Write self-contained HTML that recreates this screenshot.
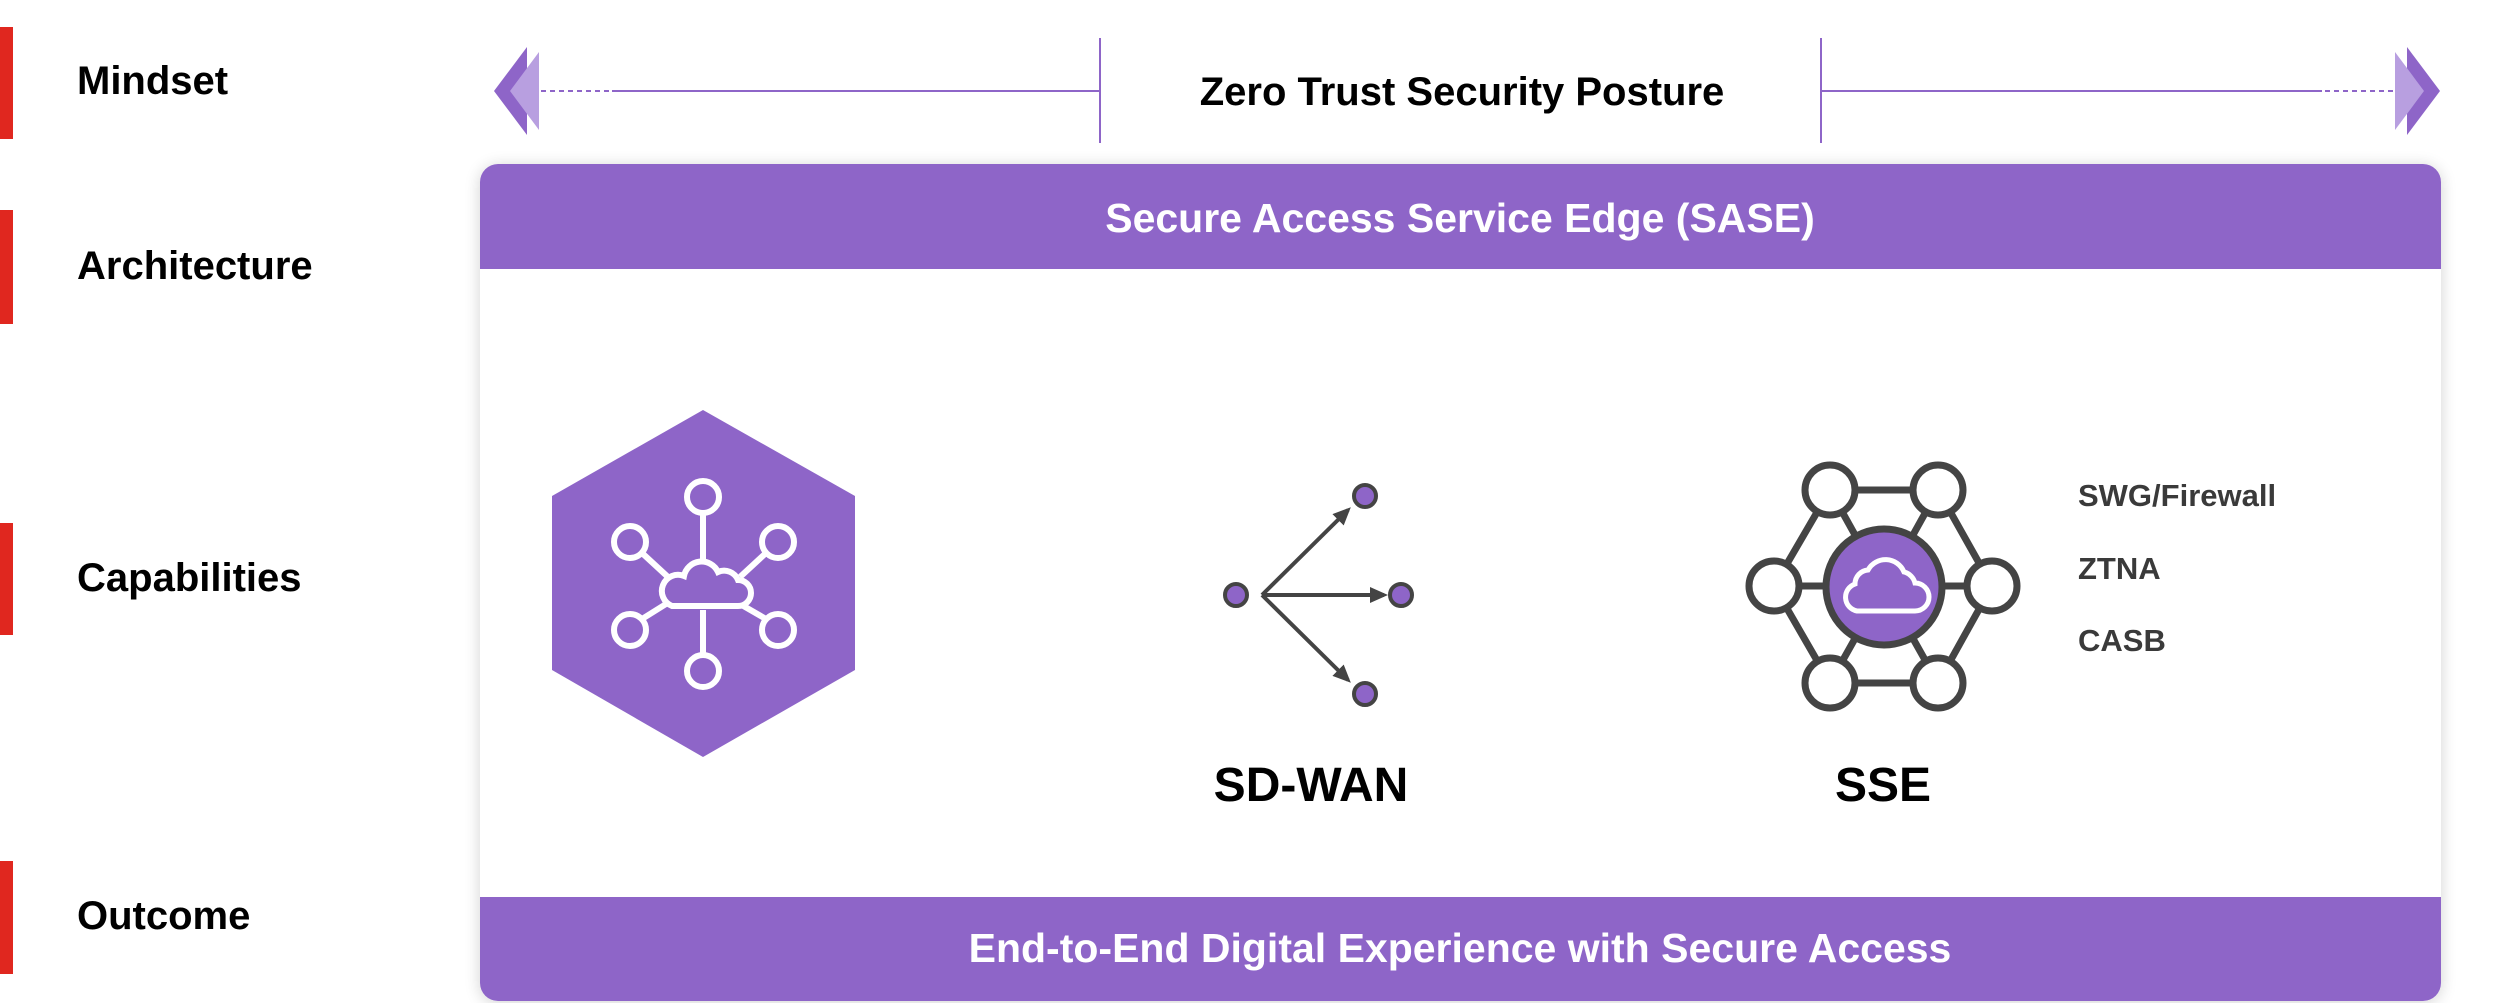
<!DOCTYPE html>
<html><head><meta charset="utf-8"><style>
html,body{margin:0;padding:0;background:#fff;}
body{width:2500px;height:1003px;overflow:hidden;position:relative;font-family:"Liberation Sans",Arial,sans-serif;}
</style></head><body>
<svg width="2500" height="1003" viewBox="0 0 2500 1003" xmlns="http://www.w3.org/2000/svg" style="position:absolute;left:0;top:0">
<defs>
<filter id="sh" x="-5%" y="-5%" width="110%" height="110%"><feGaussianBlur in="SourceAlpha" stdDeviation="8"/><feOffset dy="2"/><feComponentTransfer><feFuncA type="linear" slope="0.18"/></feComponentTransfer><feMerge><feMergeNode/><feMergeNode in="SourceGraphic"/></feMerge></filter>
<marker id="ah" markerWidth="18" markerHeight="18" refX="14" refY="9" orient="auto" markerUnits="userSpaceOnUse" viewBox="0 0 18 18"><path d="M0,1 L18,9 L0,17 z" fill="#444"/></marker>
</defs>
<g fill="#e0271f">
<rect x="0" y="27" width="13" height="112"/>
<rect x="0" y="210" width="13" height="114"/>
<rect x="0" y="523" width="13" height="112"/>
<rect x="0" y="861" width="13" height="113"/>
</g>
<g font-weight="bold" font-size="40" fill="#000">
<text x="77" y="94">Mindset</text>
<text x="77" y="279">Architecture</text>
<text x="77" y="591">Capabilities</text>
<text x="77" y="929">Outcome</text>
</g>
<g stroke="#8e65c8" stroke-width="2" fill="none">
<line x1="541" y1="91" x2="612" y2="91" stroke-dasharray="5,4"/>
<line x1="612" y1="91" x2="1100" y2="91"/>
<line x1="1100" y1="38" x2="1100" y2="143"/>
<line x1="2393" y1="91" x2="2322" y2="91" stroke-dasharray="5,4"/>
<line x1="2322" y1="91" x2="1821" y2="91"/>
<line x1="1821" y1="38" x2="1821" y2="143"/>
</g>
<polygon points="494,91 527,47 527,135" fill="#8e65c8"/>
<polygon points="510,91 539,52 539,130" fill="#b89fe0"/>
<polygon points="2440,91 2407,47 2407,135" fill="#8e65c8"/>
<polygon points="2424,91 2395,52 2395,130" fill="#b89fe0"/>
<text x="1462" y="105" text-anchor="middle" font-weight="bold" font-size="40" fill="#000">Zero Trust Security Posture</text>
<rect x="480" y="164" width="1961" height="837" rx="18" fill="#fff" filter="url(#sh)"/>
<path d="M498,164 H2423 A18,18 0 0 1 2441,182 V269 H480 V182 A18,18 0 0 1 498,164 Z" fill="#8e65c8"/>
<path d="M480,897 H2441 V983 A18,18 0 0 1 2423,1001 H498 A18,18 0 0 1 480,983 Z" fill="#8e65c8"/>
<text x="1460" y="232" text-anchor="middle" font-weight="bold" font-size="41" fill="#fff">Secure Access Service Edge (SASE)</text>
<text x="1460" y="962" text-anchor="middle" font-weight="bold" font-size="41" fill="#fff">End-to-End Digital Experience with Secure Access</text>
<polygon points="703,410 855,496 855,670 703,757 552,670 552,496" fill="#8e65c8"/>
<g stroke="#fff" stroke-width="6" fill="none">
<line x1="703" y1="513" x2="703" y2="562"/>
<line x1="703" y1="610" x2="703" y2="655"/>
<line x1="642" y1="553" x2="668" y2="577"/>
<line x1="766" y1="553" x2="740" y2="577"/>
<line x1="642" y1="619" x2="666" y2="604"/>
<line x1="766" y1="619" x2="740" y2="604"/>
<circle cx="703" cy="497" r="16"/><circle cx="703" cy="671" r="16"/>
<circle cx="630" cy="542" r="16"/><circle cx="778" cy="542" r="16"/>
<circle cx="630" cy="630" r="16"/><circle cx="778" cy="630" r="16"/>
<path d="M672,606 H738 A13,13 0 0 0 738,580 A15,15 0 0 0 718,572 A18,18 0 0 0 684,576 A15,15 0 0 0 672,606 Z" fill="#8e65c8"/>
</g>
<g stroke="#444" stroke-width="4" fill="none">
<line x1="1262" y1="595" x2="1348" y2="510" marker-end="url(#ah)"/>
<line x1="1262" y1="595" x2="1384" y2="595" marker-end="url(#ah)"/>
<line x1="1262" y1="595" x2="1348" y2="680" marker-end="url(#ah)"/>
</g>
<g fill="#8e65c8" stroke="#444" stroke-width="4">
<circle cx="1236" cy="595" r="11"/><circle cx="1365" cy="496" r="11"/>
<circle cx="1401" cy="595" r="11"/><circle cx="1365" cy="694" r="11"/>
</g>
<text x="1311" y="801" text-anchor="middle" font-weight="bold" font-size="48" fill="#000">SD-WAN</text>
<g stroke="#444" stroke-width="7" fill="none">
<line x1="1830" y1="490" x2="1938" y2="490"/><line x1="1830" y1="683" x2="1938" y2="683"/>
<line x1="1830" y1="490" x2="1774" y2="586"/><line x1="1938" y1="490" x2="1992" y2="586"/>
<line x1="1830" y1="683" x2="1774" y2="586"/><line x1="1938" y1="683" x2="1992" y2="586"/>
<line x1="1830" y1="490" x2="1884" y2="587"/><line x1="1938" y1="490" x2="1884" y2="587"/>
<line x1="1830" y1="683" x2="1884" y2="587"/><line x1="1938" y1="683" x2="1884" y2="587"/>
<line x1="1774" y1="586" x2="1992" y2="586"/>
<circle cx="1884" cy="587" r="58" fill="#8e65c8"/>
<g fill="#fff"><circle cx="1830" cy="490" r="25"/><circle cx="1938" cy="490" r="25"/>
<circle cx="1774" cy="586" r="25"/><circle cx="1992" cy="586" r="25"/>
<circle cx="1830" cy="683" r="25"/><circle cx="1938" cy="683" r="25"/></g>
</g>
<path d="M1857,611 H1915 A14,14 0 0 0 1915,583 A15,15 0 0 0 1904,572 A20,20 0 0 0 1868,570 A14,14 0 0 0 1855,584 A14,14 0 0 0 1857,611 Z" fill="none" stroke="#fff" stroke-width="5"/>
<text x="1883" y="801" text-anchor="middle" font-weight="bold" font-size="48" fill="#000">SSE</text>
<g font-weight="bold" font-size="31" fill="#3a3a3a">
<text x="2078" y="506">SWG/Firewall</text>
<text x="2078" y="579">ZTNA</text>
<text x="2078" y="651">CASB</text>
</g>
</svg>
</body></html>
